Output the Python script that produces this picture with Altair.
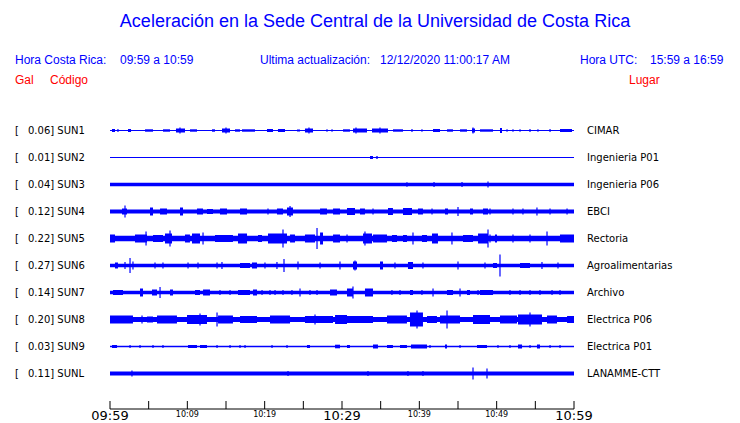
import altair as alt
import pandas as pd

# ---------------- data ----------------
codes = ["SUN1", "SUN2", "SUN3", "SUN4", "SUN5", "SUN6", "SUN7", "SUN8", "SUN9", "SUNL"]
peaks = ["0.06", "0.01", "0.04", "0.12", "0.22", "0.27", "0.14", "0.20", "0.03", "0.11"]
places = ["CIMAR", "Ingenieria P01", "Ingenieria P06", "EBCI", "Rectoria",
          "Agroalimentarias", "Archivo", "Electrica P06", "Electrica P01", "LANAMME-CTT"]
# background (noise) half-amplitude of each trace, display units (row spacing = 27)
base_amp = [0.5, 0.5, 1.7, 2.0, 2.7, 1.8, 1.8, 2.6, 0.7, 2.0]

# bursts: (start minute, end minute, half-amplitude); spikes: (minute, half-amplitude)
bursts_sun1 = [(0.26, 0.65, 1.5), (2.33, 2.72, 1.5), (4.53, 5.56, 1.2), (6.85, 7.76, 1.2),
               (8.53, 9.70, 2.0), (10.34, 11.25, 1.2), (13.19, 13.58, 1.2), (14.48, 15.52, 2.0),
               (16.16, 16.81, 1.2), (17.07, 18.75, 1.2), (20.30, 21.08, 1.5), (21.72, 22.63, 1.5),
               (24.18, 24.57, 1.0), (25.21, 26.25, 2.0), (30.13, 31.03, 1.2), (31.42, 33.23, 2.0),
               (33.88, 35.95, 2.0), (36.59, 37.89, 1.2), (41.77, 42.67, 1.5), (43.58, 44.35, 1.2),
               (45.26, 46.16, 1.2), (46.81, 47.20, 2.0), (47.84, 49.53, 1.2), (50.43, 50.69, 2.5),
               (58.19, 59.74, 1.5)]
spikes_sun1 = [(1.03, 1.5), (9.05, 3.0), (15.0, 3.0), (25.73, 3.0), (28.06, 1.2), (28.71, 1.2),
               (31.81, 3.0), (34.91, 3.0), (39.05, 1.5), (40.34, 1.2), (46.94, 3.0), (51.34, 1.2),
               (52.11, 1.2), (53.02, 1.2), (54.31, 1.5), (55.34, 1.2), (56.90, 1.5)]

bursts_sun2 = [(33.62, 34.01, 1.5), (34.39, 34.65, 1.2)]
spikes_sun2 = []

bursts_sun3 = []
spikes_sun3 = [(38.40, 2.2), (41.90, 2.5), (45.52, 2.5), (48.88, 3.0)]

bursts_sun4 = [(1.55, 2.20, 3.0), (5.17, 5.56, 4.0), (6.47, 7.37, 3.0), (9.05, 9.44, 4.0),
               (11.25, 12.03, 3.0), (12.54, 13.32, 2.5), (14.22, 15.13, 3.0), (16.81, 17.72, 3.0),
               (21.59, 22.37, 3.0), (22.89, 23.66, 4.0), (27.16, 28.06, 3.0), (28.84, 29.74, 3.0),
               (30.65, 31.68, 3.5), (32.33, 32.97, 3.0), (35.95, 36.59, 3.5), (37.89, 39.05, 3.5),
               (39.83, 40.47, 3.0), (43.32, 43.71, 3.0), (46.55, 46.94, 3.0), (48.23, 48.88, 3.0)]
spikes_sun4 = [(1.94, 6.0), (20.43, 3.0), (23.28, 5.5), (34.01, 3.0), (41.64, 3.0), (45.0, 4.5),
               (49.14, 3.0), (52.11, 3.0), (53.40, 3.0), (55.21, 4.0), (56.90, 3.0), (59.10, 3.0)]

bursts_sun5 = [(0.0, 0.65, 4.0), (3.23, 4.78, 4.0), (5.56, 6.85, 3.5), (7.11, 8.02, 5.0),
               (9.70, 10.34, 4.0), (10.60, 11.64, 5.0), (13.58, 15.90, 3.5), (16.55, 17.72, 5.0),
               (19.14, 19.66, 3.5), (20.43, 22.89, 5.0), (23.28, 23.92, 4.0), (25.21, 26.51, 4.0),
               (27.16, 27.54, 6.0), (28.84, 29.74, 4.0), (32.72, 33.88, 5.0), (34.01, 35.82, 4.0),
               (36.46, 37.11, 3.5), (37.89, 38.40, 3.5), (40.34, 40.99, 3.5), (41.64, 42.41, 5.0),
               (45.65, 46.94, 3.5), (47.59, 48.88, 5.0), (49.78, 50.04, 4.0), (58.19, 60.0, 4.0)]
spikes_sun5 = [(4.66, 7.0), (7.76, 8.0), (12.03, 6.0), (22.37, 9.0), (26.77, 10.5), (30.65, 4.0),
               (32.97, 7.0), (39.18, 6.0), (44.22, 6.0), (48.88, 9.0), (49.14, 4.0), (52.11, 4.0),
               (54.31, 4.0), (56.51, 7.0)]

bursts_sun6 = [(0.65, 1.03, 3.0), (16.81, 18.10, 2.5), (18.36, 19.01, 3.0), (31.42, 31.94, 4.0),
               (34.91, 35.30, 4.0), (38.53, 39.18, 3.5), (49.53, 50.04, 2.5), (53.02, 54.31, 2.5)]
spikes_sun6 = [(1.94, 3.5), (2.59, 7.5), (2.97, 4.0), (5.82, 3.0), (6.85, 3.0), (10.09, 3.0),
               (11.38, 3.0), (13.84, 3.0), (14.48, 3.5), (20.04, 3.0), (21.59, 3.5), (22.50, 6.5),
               (24.31, 4.0), (27.16, 3.0), (29.74, 4.0), (31.68, 5.0), (36.85, 3.0), (40.47, 3.0),
               (45.0, 4.0), (48.49, 3.0), (50.43, 11.0), (55.86, 3.5), (57.93, 3.0)]

bursts_sun7 = [(0.39, 1.68, 2.5), (3.88, 4.27, 4.0), (5.43, 6.08, 3.0), (7.76, 8.15, 3.0),
               (10.99, 11.64, 2.5), (12.03, 12.93, 3.0), (16.55, 18.10, 2.5), (18.49, 19.01, 3.0),
               (28.45, 29.35, 3.0), (30.65, 31.42, 4.0), (32.97, 34.01, 4.0), (38.79, 39.18, 2.5),
               (43.58, 44.35, 2.5), (46.16, 46.55, 2.5), (47.84, 49.53, 2.5)]
spikes_sun7 = [(6.47, 5.5), (14.22, 2.5), (15.52, 2.5), (19.66, 2.5), (20.69, 2.5), (21.34, 2.5),
               (22.37, 2.5), (23.53, 2.5), (24.57, 4.0), (25.86, 2.5), (26.77, 2.5), (31.42, 6.0),
               (36.46, 2.5), (37.50, 2.5), (40.34, 2.5), (41.77, 4.0), (45.26, 4.0), (47.59, 2.5),
               (51.72, 2.5), (53.02, 2.5), (54.31, 2.5), (55.60, 2.5), (57.16, 2.5), (58.19, 2.5)]

bursts_sun8 = [(0.0, 2.97, 4.0), (4.78, 5.56, 3.0), (6.08, 8.66, 4.0), (9.96, 12.54, 4.5),
               (13.97, 15.90, 4.0), (16.81, 19.01, 3.5), (20.69, 23.28, 4.0), (25.21, 28.84, 3.5),
               (29.10, 30.65, 4.5), (30.65, 34.01, 3.5), (35.82, 38.40, 4.0), (38.79, 40.47, 7.0),
               (40.99, 42.28, 3.5), (42.67, 45.26, 4.0), (46.94, 49.14, 4.5), (50.43, 52.63, 4.0),
               (52.76, 55.86, 5.0), (56.51, 57.80, 4.0), (59.10, 60.0, 3.5)]
spikes_sun8 = [(4.14, 4.0), (11.64, 6.0), (13.84, 7.0), (26.51, 5.0), (39.70, 9.0), (43.58, 9.0),
               (54.31, 7.0)]

bursts_sun9 = [(0.26, 0.91, 1.5), (10.09, 11.25, 1.5), (11.64, 12.54, 1.5), (25.47, 25.86, 1.5),
               (29.10, 29.74, 1.8), (30.65, 31.03, 1.5), (34.01, 34.65, 2.0), (35.82, 36.59, 1.5),
               (37.50, 38.40, 1.5), (38.92, 40.99, 2.0), (43.32, 43.58, 2.0), (47.46, 48.75, 1.5),
               (52.76, 53.28, 2.0), (55.21, 55.60, 2.0)]
spikes_sun9 = [(2.59, 1.5), (3.88, 1.5), (5.56, 1.5), (6.85, 1.5), (13.84, 1.5), (15.52, 1.5),
               (16.81, 1.5), (17.46, 1.5), (20.95, 1.5), (22.89, 1.5), (41.38, 1.5), (45.26, 1.5),
               (50.17, 1.5), (51.72, 1.5), (54.31, 1.5), (56.90, 1.5), (58.19, 1.5)]

bursts_sunl = []
spikes_sunl = [(2.84, 3.0), (23.02, 2.5), (33.36, 2.5), (38.53, 2.5), (40.47, 2.5),
               (46.94, 6.0), (48.75, 5.0)]

all_bursts = [bursts_sun1, bursts_sun2, bursts_sun3, bursts_sun4, bursts_sun5,
              bursts_sun6, bursts_sun7, bursts_sun8, bursts_sun9, bursts_sunl]
all_spikes = [spikes_sun1, spikes_sun2, spikes_sun3, spikes_sun4, spikes_sun5,
              spikes_sun6, spikes_sun7, spikes_sun8, spikes_sun9, spikes_sunl]

tick_minutes = list(range(0, 61, 5))
label_minutes = [0, 10, 20, 30, 40, 50, 60]
label_texts = ["09:59", "10:09", "10:19", "10:29", "10:39", "10:49", "10:59"]
big_labels = ["09:59", "10:29", "10:59"]

# ---------------- build tables ----------------
ROW = 27
BLUE = "#0000ff"
RED = "#ff0000"

base_rows, burst_rows, spike_rows, label_rows = [], [], [], []
for i, code in enumerate(codes):
    yc = -ROW * i
    base_rows.append({"t0": 0, "t1": 60, "y": yc + base_amp[i], "y2": yc - base_amp[i]})
    for (a, b, amp) in all_bursts[i]:
        burst_rows.append({"t0": a, "t1": b, "y": yc + amp, "y2": yc - amp})
    for (t, amp) in all_spikes[i]:
        spike_rows.append({"t": t, "y": yc + amp, "y2": yc - amp})
    label_rows.append({"yc": yc, "left": f"{peaks[i]}] {code}", "right": places[i]})

base_df = pd.DataFrame(base_rows)
burst_df = pd.DataFrame(burst_rows)
spike_df = pd.DataFrame(spike_rows)
label_df = pd.DataFrame(label_rows)
tick_df = pd.DataFrame({"t": tick_minutes})
axis_df = pd.DataFrame({"t0": [0], "t1": [60]})
tl_df = pd.DataFrame({"t": label_minutes, "s": label_texts})

xs = alt.Scale(domain=[0, 60], range=[102, 566])
ys = alt.Scale(domain=[-9 * ROW, 0], range=[365.5, 122.5])

base = (alt.Chart(base_df).mark_rect(color=BLUE)
        .encode(x=alt.X("t0:Q", scale=xs, axis=None), x2="t1:Q",
                y=alt.Y("y:Q", scale=ys, axis=None), y2="y2:Q"))
bursts = (alt.Chart(burst_df).mark_rect(color=BLUE)
          .encode(x=alt.X("t0:Q", scale=xs, axis=None), x2="t1:Q",
                  y=alt.Y("y:Q", scale=ys, axis=None), y2="y2:Q"))
spikes = (alt.Chart(spike_df).mark_rule(color=BLUE, strokeWidth=1.2)
          .encode(x=alt.X("t:Q", scale=xs, axis=None),
                  y=alt.Y("y:Q", scale=ys, axis=None), y2="y2:Q"))

left_br = (alt.Chart(label_df).mark_text(align="left", baseline="middle", font="DejaVu Sans",
                                          fontSize=10, color="black")
           .encode(x=alt.value(7), y=alt.Y("yc:Q", scale=ys, axis=None), text=alt.value("[")))
left_lab = (alt.Chart(label_df).mark_text(align="left", baseline="middle", font="DejaVu Sans",
                                           fontSize=10, color="black")
            .encode(x=alt.value(20), y=alt.Y("yc:Q", scale=ys, axis=None), text="left:N"))
right_lab = (alt.Chart(label_df).mark_text(align="left", baseline="middle", font="DejaVu Sans",
                                            fontSize=10, color="black")
             .encode(x=alt.value(579), y=alt.Y("yc:Q", scale=ys, axis=None), text="right:N"))

axis_line = (alt.Chart(axis_df).mark_rule(color="black", strokeWidth=1)
             .encode(x=alt.X("t0:Q", scale=xs, axis=None), x2="t1:Q", y=alt.value(401)))
ticks = (alt.Chart(tick_df).mark_rule(color="black", strokeWidth=1)
         .encode(x=alt.X("t:Q", scale=xs, axis=None), y=alt.value(393), y2=alt.value(401)))
tick_big = (alt.Chart(tl_df).transform_filter(alt.FieldOneOfPredicate(field="s", oneOf=big_labels))
            .mark_text(align="center", baseline="middle", font="DejaVu Sans", fontSize=13, color="black")
            .encode(x=alt.X("t:Q", scale=xs, axis=None), y=alt.value(408), text="s:N"))
tick_small = (alt.Chart(tl_df).transform_filter(~alt.FieldOneOfPredicate(field="s", oneOf=big_labels))
              .mark_text(align="center", baseline="middle", font="DejaVu Sans", fontSize=8, color="black")
              .encode(x=alt.X("t:Q", scale=xs, axis=None), y=alt.value(407), text="s:N"))


def note(txt, x, y, color=BLUE, size=12, align="left"):
    return (alt.Chart(pd.DataFrame({"s": [txt]}))
            .mark_text(align=align, baseline="middle", font="Liberation Sans", fontSize=size, color=color)
            .encode(x=alt.value(x), y=alt.value(y), text="s:N"))


notes = [
    note("Aceleración en la Sede Central de la Universidad de Costa Rica", 367, 14, size=18, align="center"),
    note("Hora Costa Rica:", 7, 52),
    note("09:59 a 10:59", 112, 52),
    note("Ultima actualización:", 252, 52),
    note("12/12/2020 11:00:17 AM", 372, 52),
    note("Hora UTC:", 572, 52),
    note("15:59 a 16:59", 642, 52),
    note("Gal", 7, 72, color=RED),
    note("Código", 42, 72, color=RED),
    note("Lugar", 621, 72, color=RED),
]

chart = alt.layer(base, bursts, spikes, left_br, left_lab, right_lab,
                  axis_line, ticks, tick_big, tick_small, *notes).properties(
    width=724, height=415, padding=0, autosize=alt.AutoSizeParams(type="none"),
    background="white",
).configure_view(stroke=None)

chart.save("out.html", embed_options={"renderer": "svg", "actions": False})
